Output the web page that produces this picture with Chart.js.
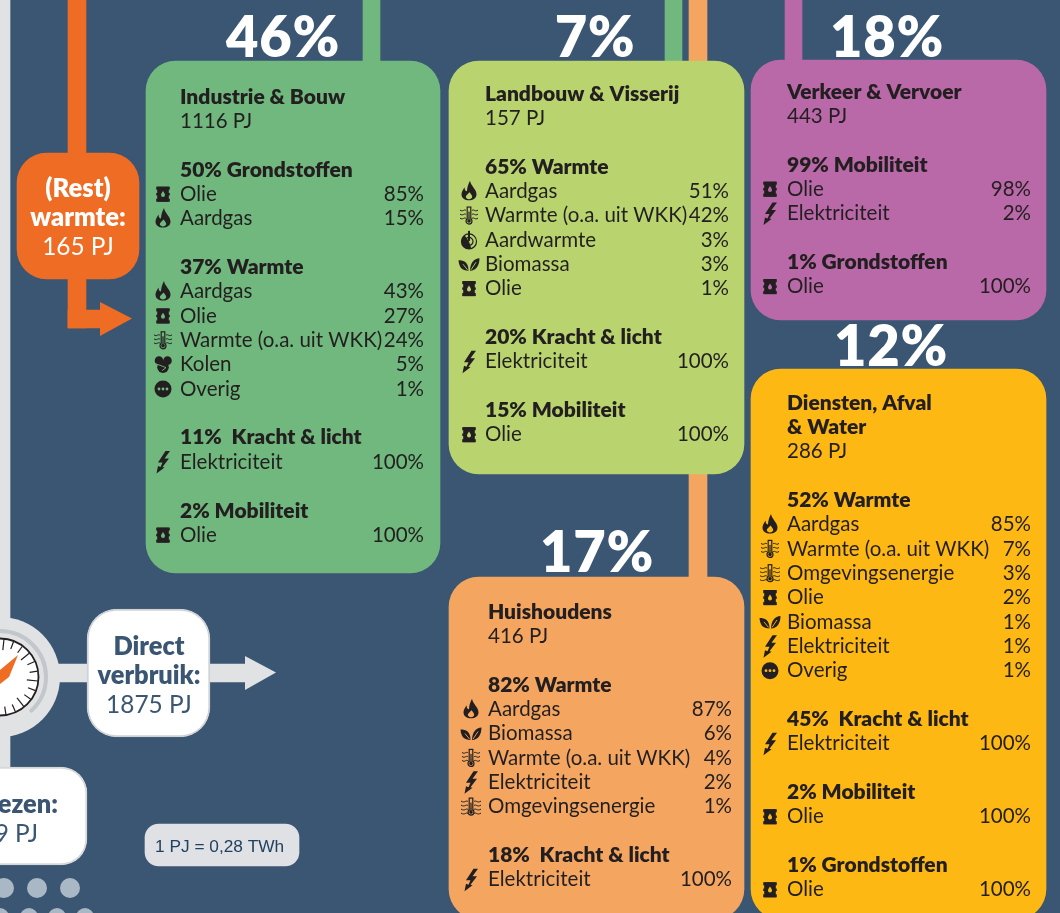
<!DOCTYPE html>
<html>
<head>
<meta charset="utf-8">
<script src="https://cdn.jsdelivr.net/npm/chart.js@4"></script>
<style>
  html, body { margin: 0; padding: 0; background: #3a5673; }
  #wrap { width: 1060px; height: 913px; overflow: hidden; }
</style>
</head>
<body>
<div id="wrap"><canvas id="flow" width="1060" height="913"></canvas></div>
<script>
// sectors
const sectorNames = [['Industrie & Bouw'], ['Landbouw & Visserij'], ['Verkeer & Vervoer'], ['Diensten, Afval', '& Water'], ['Huishoudens']];
const sectorPJ = [1116, 157, 443, 286, 416];
const sectorShare = [46, 7, 18, 12, 17];

// use per sector
const industrieUse = ['50% Grondstoffen', '37% Warmte', '11%  Kracht & licht', '2% Mobiliteit'];
const landbouwUse = ['65% Warmte', '20% Kracht & licht', '15% Mobiliteit'];
const verkeerUse = ['99% Mobiliteit', '1% Grondstoffen'];
const dienstenUse = ['52% Warmte', '45%  Kracht & licht', '2% Mobiliteit', '1% Grondstoffen'];
const huishoudensUse = ['82% Warmte', '18%  Kracht & licht'];

// carriers per use, same order as above
const industrieCarriers = [['Olie', 'Aardgas'], ['Aardgas', 'Olie', 'Warmte (o.a. uit WKK)', 'Kolen', 'Overig'], ['Elektriciteit'], ['Olie']];
const industrieValues = [[85, 15], [43, 27, 24, 5, 1], [100], [100]];
const landbouwCarriers = [['Aardgas', 'Warmte (o.a. uit WKK)', 'Aardwarmte', 'Biomassa', 'Olie'], ['Elektriciteit'], ['Olie']];
const landbouwValues = [[51, 42, 3, 3, 1], [100], [100]];
const verkeerCarriers = [['Olie', 'Elektriciteit'], ['Olie']];
const verkeerValues = [[98, 2], [100]];
const dienstenCarriers = [['Aardgas', 'Warmte (o.a. uit WKK)', 'Omgevingsenergie', 'Olie', 'Biomassa', 'Elektriciteit', 'Overig'], ['Elektriciteit'], ['Olie'], ['Olie']];
const dienstenValues = [[85, 7, 3, 2, 1, 1, 1], [100], [100], [100]];
const huishoudensCarriers = [['Aardgas', 'Biomassa', 'Warmte (o.a. uit WKK)', 'Elektriciteit', 'Omgevingsenergie'], ['Elektriciteit']];
const huishoudensValues = [[87, 6, 4, 2, 1], [100]];

const allUse = [industrieUse, landbouwUse, verkeerUse, dienstenUse, huishoudensUse];
const allCarriers = [industrieCarriers, landbouwCarriers, verkeerCarriers, dienstenCarriers, huishoudensCarriers];
const allValues = [industrieValues, landbouwValues, verkeerValues, dienstenValues, huishoudensValues];

// layout, in picture pixels. x and y scale run 0-1060 and 913-0 so bars land on these
const cardBoxes = [
  { l: 146, r: 440, t: 61, b: 573, color: '#70b87d' },
  { l: 449, r: 744, t: 61, b: 474, color: '#b9d46f' },
  { l: 751, r: 1046, t: 60, b: 320, color: '#b968a8' },
  { l: 751, r: 1046, t: 369, b: 919, color: '#fdb813' },
  { l: 449, r: 744, t: 577, b: 919, color: '#f4a661' }
];
const textPos = [
  { x: 180, right: 424, icon: 163, y: 96.8 },
  { x: 485, right: 729, icon: 469, y: 93.8 },
  { x: 787, right: 1031, icon: 770, y: 91.8 },
  { x: 787, right: 1031, icon: 770, y: 402.8 },
  { x: 488, right: 732, icon: 471, y: 611.8 }
];
const sharePos = [[283, 57], [595, 57], [887, 57], [891, 366], [597, 572]];
const LINE = 24.35;
const INK = '#231f20';
const NAVY = '#3a5673';
const LIGHT = '#e0e2e4';

const connectors = [
  { l: 363, r: 380, t: 0, b: 64, color: '#70b87d' },
  { l: 665, r: 682, t: 0, b: 64, color: '#70b87d' },
  { l: 689, r: 707, t: 0, b: 580, color: '#f4a661' },
  { l: 785, r: 802, t: 0, b: 64, color: '#b968a8' },
  { l: 68, r: 86, t: 0, b: 328, color: '#ee6c23' },
  { l: 68, r: 102, t: 310, b: 328, color: '#ee6c23' },
  { l: 0, r: 10, t: 0, b: 770, color: LIGHT },
  { l: 50, r: 90, t: 664, b: 682, color: LIGHT },
  { l: 208, r: 247, t: 664, b: 682, color: LIGHT }
];
const sideBoxes = [
  { l: 17, r: 139, t: 153, b: 279, color: '#ee6c23', border: '#ee6c23', radius: 30 },
  { l: 87, r: 210, t: 609, b: 737, color: '#ffffff', border: '#cfd2d6', radius: 30 },
  { l: -40, r: 87, t: 767, b: 865, color: '#ffffff', border: '#d5d8db', radius: 26 },
  { l: 145, r: 299, t: 824, b: 866, color: '#dfe1e4', border: '#dfe1e4', radius: 14 }
];

function barSet(box, order, radius, border) {
  return {
    type: 'bar',
    data: [{ x: (box.l + box.r) / 2, y: [box.t, box.b] }],
    barThickness: box.r - box.l,
    backgroundColor: box.color,
    borderColor: border || box.color,
    borderWidth: border ? 2 : 0,
    borderRadius: radius,
    borderSkipped: false,
    grouped: false,
    clip: false,
    order: order
  };
}

// ---- small icons, drawn around (0,0) in about a 18px box
function flameCore(c, bg) {
  c.beginPath();
  c.moveTo(1, -10.5);
  c.bezierCurveTo(2, -5, 7.5, -2, 7.5, 3);
  c.bezierCurveTo(7.5, 7, 4, 9, 0, 9);
  c.bezierCurveTo(-4, 9, -7.5, 7, -7.5, 3);
  c.bezierCurveTo(-7.5, 0, -5.5, -2, -4.5, -4);
  c.bezierCurveTo(-4.5, -1, -3, 0, -2, 0);
  c.bezierCurveTo(-2, -3, -1, -7, 1, -10.5);
  c.fill();
  c.fillStyle = bg;
  c.beginPath();
  c.moveTo(0.5, 1);
  c.bezierCurveTo(2, 3, 3.2, 4, 3.2, 5.5);
  c.bezierCurveTo(3.2, 7, 1.5, 8, 0, 8);
  c.bezierCurveTo(-1.5, 8, -3.2, 7, -3.2, 5.5);
  c.bezierCurveTo(-3.2, 4, -1, 3, 0.5, 1);
  c.fill();
}
function drum(c, bg) {
  c.fillRect(-5.8, -7.5, 11.6, 15);
  c.fillRect(-6.8, -7.5, 13.6, 3);
  c.fillRect(-6.8, 4.5, 13.6, 3);
  c.fillRect(-6.8, -1.2, 13.6, 2.4);
  c.fillStyle = bg;
  c.beginPath();
  c.moveTo(0, -3.2);
  c.bezierCurveTo(0.8, -1.6, 2, -0.8, 2, 0.8);
  c.arc(0, 0.8, 2, 0, Math.PI);
  c.bezierCurveTo(-2, -0.8, -0.8, -1.6, 0, -3.2);
  c.fill();
}
function bolt(c) {
  c.beginPath();
  c.moveTo(2.5, -11);
  c.lineTo(-5, 0.5);
  c.lineTo(-0.5, 0.5);
  c.lineTo(-2.5, 5);
  c.lineTo(-5, 4);
  c.lineTo(-6.5, 11.5);
  c.lineTo(1.5, 5.5);
  c.lineTo(-0.5, 5);
  c.lineTo(6, -3.5);
  c.lineTo(1.5, -3.5);
  c.lineTo(7, -11);
  c.closePath();
  c.fill();
}
function leaf(c, bg) {
  c.beginPath();
  c.moveTo(-0.5, 6.5);
  c.bezierCurveTo(-7, 6.5, -10, 3, -10.5, -4);
  c.bezierCurveTo(-5, -4, -0.5, -2, -0.5, 6.5);
  c.fill();
  c.beginPath();
  c.moveTo(1, 6.5);
  c.bezierCurveTo(1, -1, 5, -6, 10.5, -6);
  c.bezierCurveTo(10.5, 1, 7, 6.5, 1, 6.5);
  c.fill();
  c.strokeStyle = bg;
  c.lineWidth = 0.9;
  c.beginPath();
  c.moveTo(-1.5, 5.5); c.lineTo(-6, 0);
  c.moveTo(2, 5.5); c.lineTo(7, -2);
  c.stroke();
}
function thermo(c, wide, bg) {
  c.lineWidth = 1;
  const ys = wide ? [-5, -1, 3, 7] : [-5, -1, 3];
  const d = wide ? 10 : 9;
  ys.forEach(y => {
    [-1, 1].forEach(s => {
      c.beginPath();
      c.moveTo(s * 3, y);
      c.bezierCurveTo(s * 5, y - 2, s * 6, y + 2, s * d, y - 0.5);
      c.stroke();
    });
  });
  c.lineWidth = 1.2;
  c.beginPath();
  c.arc(0, 5.5, 3, 0, Math.PI * 2);
  c.stroke();
  c.strokeRect(-1.8, -8.5, 3.6, 12);
  c.fillStyle = bg;
  c.fillRect(-1.2, 2, 2.4, 2);
  c.fillStyle = INK;
  c.beginPath();
  c.arc(0, 5.5, 1.8, 0, Math.PI * 2);
  c.fill();
  c.fillRect(-0.6, -4, 1.2, 8);
}
function coal(c, bg) {
  c.beginPath();
  c.arc(-4, -4, 4.3, 0, Math.PI * 2);
  c.arc(4.5, -4, 4.3, 0, Math.PI * 2);
  c.fill();
  c.beginPath();
  c.arc(0, 2.5, 5.8, 0, Math.PI * 2);
  c.fill();
  c.strokeStyle = bg;
  c.lineWidth = 0.9;
  c.beginPath();
  c.moveTo(-2, 1); c.lineTo(3, 3); c.lineTo(-1, 6);
  c.moveTo(-8, -1); c.lineTo(-2, 1);
  c.stroke();
}
function other(c, bg) {
  c.beginPath();
  c.arc(0, 0, 8.5, 0, Math.PI * 2);
  c.fill();
  c.fillStyle = bg;
  [-4, 0, 4].forEach(x => {
    c.beginPath();
    c.arc(x, 0, 1.4, 0, Math.PI * 2);
    c.fill();
  });
}
function geo(c) {
  c.lineWidth = 1.2;
  c.beginPath();
  c.arc(0, 1.5, 7.5, 0, Math.PI * 2);
  c.stroke();
  c.beginPath();
  c.arc(0, 1.5, 7.5, Math.PI * 0.4, Math.PI * 1.3);
  c.lineTo(0, 1.5);
  c.fill();
  c.beginPath();
  c.arc(0, 1.5, 4, 0, Math.PI * 2);
  c.stroke();
  c.fillRect(-1, -9, 2, 10);
}
const iconFor = {
  'Aardgas': flameCore, 'Olie': drum, 'Elektriciteit': bolt, 'Biomassa': leaf, 'Kolen': coal, 'Overig': other,
  'Aardwarmte': geo,
  'Warmte (o.a. uit WKK)': (c, bg) => thermo(c, false, bg),
  'Omgevingsenergie': (c, bg) => thermo(c, true, bg)
};

function put(c, text, x, y, align) {
  c.textAlign = align || 'left';
  c.fillText(text, x, y);
}

// gauge, arrows, dots and all text
const sheetPlugin = {
  id: 'sheet',
  beforeDatasetsDraw(chart) {
    const c = chart.ctx;
    const X = v => chart.scales.x.getPixelForValue(v);
    const Y = v => chart.scales.y.getPixelForValue(v);
    // dots bottom left
    c.save();
    c.fillStyle = '#aab8c5';
    [[4, 888, 10], [37, 888, 10], [70, 888, 10], [0, 917, 9], [29, 917, 9], [57, 917, 9], [85, 917, 9]].forEach(d => {
      c.beginPath();
      c.arc(X(d[0]), Y(d[1]), d[2], 0, Math.PI * 2);
      c.fill();
    });
    // arrow heads
    c.fillStyle = '#ee6c23';
    c.beginPath();
    c.moveTo(X(100), Y(302)); c.lineTo(X(132), Y(318.5)); c.lineTo(X(100), Y(336));
    c.fill();
    c.fillStyle = LIGHT;
    c.beginPath();
    c.moveTo(X(245), Y(656)); c.lineTo(X(276), Y(672.5)); c.lineTo(X(245), Y(690));
    c.fill();
    c.restore();
  },
  afterDatasetsDraw(chart) {
    const c = chart.ctx;
    const X = v => chart.scales.x.getPixelForValue(v);
    const Y = v => chart.scales.y.getPixelForValue(v);
    c.save();
    // gauge
    const gx = X(0), gy = Y(677);
    c.fillStyle = LIGHT;
    c.beginPath(); c.arc(gx, gy, 60, 0, Math.PI * 2); c.fill();
    c.strokeStyle = '#c3c6ca';
    c.lineWidth = 4;
    c.lineCap = 'round';
    c.beginPath(); c.arc(gx, gy, 46, -Math.PI / 2, Math.PI * 0.26); c.stroke();
    c.lineCap = 'butt';
    c.fillStyle = '#ffffff';
    c.beginPath(); c.arc(gx, gy, 38.5, 0, Math.PI * 2); c.fill();
    c.strokeStyle = '#231f20';
    c.lineWidth = 1.8;
    c.stroke();
    c.lineWidth = 1.2;
    for (let a = -90; a <= 90; a += 15) {
      const t = (a + 6) * Math.PI / 180;
      const inner = (a % 45 === 0) ? 27 : 30;
      c.beginPath();
      c.moveTo(gx + Math.cos(t) * 38, gy + Math.sin(t) * 38);
      c.lineTo(gx + Math.cos(t) * inner, gy + Math.sin(t) * inner);
      c.stroke();
    }
    c.fillStyle = '#ee6c23';
    c.beginPath();
    c.moveTo(X(18), Y(655));
    c.lineTo(X(9), Y(677));
    c.lineTo(X(0), Y(684));
    c.lineTo(X(0), Y(670));
    c.closePath();
    c.fill();

    c.textBaseline = 'middle';

    // the five sector cards
    sectorNames.forEach((name, i) => {
      const p = textPos[i];
      let y = p.y;
      c.fillStyle = INK;
      c.font = '800 21px Lato';
      name.forEach(line => { put(c, line, X(p.x), Y(y)); y += LINE; });
      c.font = '400 20.5px Lato';
      put(c, sectorPJ[i] + ' PJ', X(p.x), Y(y));
      y += LINE * 2;
      allUse[i].forEach((use, j) => {
        c.font = '800 21px Lato';
        put(c, use, X(p.x), Y(y));
        y += LINE;
        allCarriers[i][j].forEach((carrier, k) => {
          c.font = '400 20.5px Lato';
          put(c, carrier, X(p.x), Y(y));
          put(c, allValues[i][j][k] + '%', X(p.right), Y(y), 'right');
          c.save();
          c.translate(X(p.icon), Y(y));
          c.strokeStyle = INK;
          iconFor[carrier](c, cardBoxes[i].color);
          c.restore();
          y += LINE;
        });
        y += LINE;
      });
      c.fillStyle = '#ffffff';
      c.font = '800 56px Lato';
      c.letterSpacing = '0.7px';
      c.textBaseline = 'alphabetic';
      put(c, sectorShare[i] + '%', X(sharePos[i][0]), Y(sharePos[i][1]), 'center');
      c.letterSpacing = '0px';
      c.textBaseline = 'middle';
    });

    // side boxes
    c.fillStyle = '#ffffff';
    c.font = '800 25.6px Lato';
    put(c, '(Rest)', X(78), Y(189), 'center');
    put(c, 'warmte:', X(78), Y(218), 'center');
    c.font = '400 24.4px Lato';
    put(c, '165 PJ', X(78), Y(247), 'center');

    c.fillStyle = NAVY;
    c.font = '800 25.4px Lato';
    put(c, 'Direct', X(149), Y(647), 'center');
    put(c, 'verbruik:', X(149), Y(676), 'center');
    c.font = '400 24.4px Lato';
    put(c, '1875 PJ', X(149), Y(705), 'center');

    c.font = '800 25.4px Lato';
    put(c, 'ezen:', X(58), Y(805), 'right');
    c.font = '400 24.4px Lato';
    put(c, '9 PJ', X(38), Y(834), 'right');

    c.fillStyle = '#214160';
    c.font = '17.3px "Liberation Sans"';
    put(c, '1 PJ = 0,28 TWh', X(155), Y(847));
    c.restore();
  }
};

const datasets = [];
connectors.forEach(b => datasets.push(barSet(b, 5, 0)));
cardBoxes.forEach(b => datasets.push(barSet(b, 2, 30)));
sideBoxes.forEach(b => datasets.push(barSet(b, 1, b.radius, b.border !== b.color ? b.border : null)));

new Chart(document.getElementById('flow'), {
  data: { datasets: datasets },
  options: {
    responsive: false,
    animation: false,
    parsing: { xAxisKey: 'x', yAxisKey: 'y' },
    layout: { padding: 0 },
    plugins: { legend: { display: false }, tooltip: { enabled: false } },
    scales: {
      x: { type: 'linear', min: 0, max: 1060, offset: false, display: false },
      y: { type: 'linear', min: 0, max: 913, reverse: true, display: false }
    }
  },
  plugins: [sheetPlugin]
});
</script>
</body>
</html>
